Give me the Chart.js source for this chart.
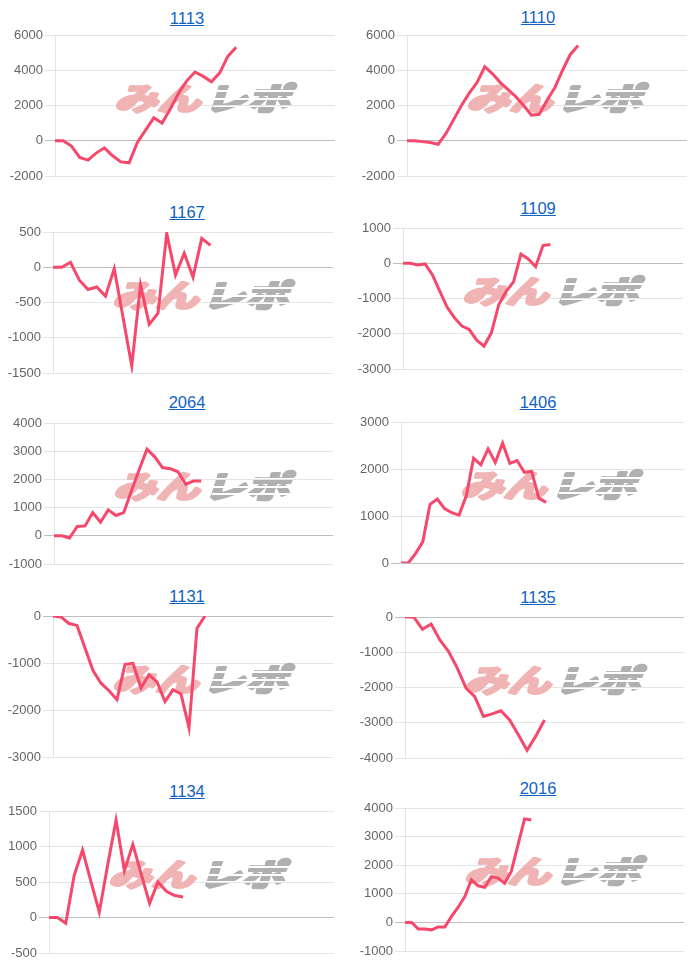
<!DOCTYPE html>
<html>
<head>
<meta charset="utf-8">
<script src="https://cdn.jsdelivr.net/npm/chart.js@4.4.0/dist/chart.umd.min.js"></script>
<style>
body { margin: 0; background: #fff; }
#wrap { position: relative; width: 700px; height: 972px; overflow: hidden; font-family: "Liberation Sans", Arial, sans-serif; }
.ttl { position: absolute; width: 120px; text-align: center; font-size: 16.5px; line-height: 18px; }
.ttl a { color: #1262c2; text-decoration: underline; }
canvas { position: absolute; }
</style>
</head>
<body>
<div id="wrap"></div>
<script>
// titles (stock codes) and number of x categories per chart
const codes = ['1113', '1110', '1167', '1109', '2064', '1406', '1131', '1135', '1134', '2016'];
const labelCounts = [35, 37, 33, 39, 37, 40, 36, 33, 35, 43];

// series values
const s1113 = [0, 0, -300, -950, -1100, -700, -400, -850, -1200, -1250, -100, 600, 1300, 1000, 1800, 2700, 3400, 3900, 3650, 3350, 3850, 4800, 5300];
const s1110 = [0, 0, -50, -100, -200, 400, 1200, 2000, 2700, 3300, 4200, 3800, 3300, 2900, 2500, 2000, 1450, 1500, 2300, 3000, 4000, 4900, 5400];
const s1167 = [0, 0, 70, -180, -315, -280, -410, -20, -710, -1400, -250, -810, -650, 480, -110, 200, -140, 410, 310];
const s1109 = [0, 0, -50, -20, -330, -800, -1250, -1550, -1780, -1880, -2180, -2350, -1970, -1170, -800, -530, 260, 120, -100, 500, 530];
const s2064 = [0, 0, -80, 330, 350, 820, 480, 920, 720, 820, 1600, 2350, 3070, 2800, 2420, 2380, 2270, 1830, 1940, 1940];
const s1406 = [0, 0, 200, 450, 1250, 1360, 1160, 1070, 1020, 1430, 2230, 2090, 2430, 2140, 2550, 2120, 2180, 1930, 1950, 1380, 1290];
const s1131 = [0, -20, -160, -200, -680, -1160, -1430, -1590, -1780, -1030, -1010, -1530, -1250, -1400, -1820, -1570, -1660, -2380, -260, 0];
const s1135 = [0, 0, -350, -200, -650, -980, -1450, -2020, -2260, -2820, -2750, -2660, -2920, -3340, -3780, -3380, -2920];
const s1134 = [0, 0, -80, 590, 950, 510, 75, 740, 1370, 660, 1030, 610, 200, 500, 370, 310, 290];
const s2016 = [0, 0, -230, -230, -260, -160, -160, 210, 530, 900, 1490, 1280, 1230, 1600, 1550, 1370, 1780, 2700, 3620, 3580];
const series = [s1113, s1110, s1167, s1109, s2064, s1406, s1131, s1135, s1134, s2016];

// y tick ranges
const yMin = [-2000, -2000, -1500, -3000, -1000, 0, -3000, -4000, -500, -1000];
const yMax = [6000, 6000, 500, 1000, 4000, 3000, 0, 0, 1500, 4000];
const yStep = [2000, 2000, 500, 1000, 1000, 1000, 1000, 1000, 500, 1000];

// page layout of each panel
const axisX = [55, 407, 53, 403, 54, 401, 53, 405, 49, 405];
const plotTop = [35, 35, 232, 228, 423, 422, 616, 617, 811, 808];
const plotBottom = [176, 176, 373, 369, 564, 563, 757, 758, 953, 951];
const plotRight = [335, 687, 333, 683, 333, 684, 333, 684, 334, 684];
const titleTop = [9, 8, 203, 199, 393, 393, 587, 588, 782, 779];

const wrap = document.getElementById('wrap');

function makeLogo() {
	const c = document.createElement('canvas');
	c.width = 200; c.height = 42;
	const g = c.getContext('2d');
	g.font = 'bold 31px "Noto Sans CJK JP"';
	g.textBaseline = 'middle';
	g.lineJoin = 'round';
	const sx = 86 / g.measureText('みん').width;
	g.setTransform(sx, 0, -0.32, 1, 10, 0);
	g.lineWidth = 3;
	g.fillStyle = g.strokeStyle = '#f0b4b4';
	g.fillText('みん', 0, 22);
	g.strokeText('みん', 0, 22);
	g.fillStyle = g.strokeStyle = '#b0b0b0';
	g.fillText('レポ', 90 / sx, 22);
	g.strokeText('レポ', 90 / sx, 22);
	g.setTransform(1, 0, 0, 1, 0, 0);
	// speed-line cuts through the grey part
	g.clearRect(98, 14, 102, 1.5);
	g.clearRect(98, 22, 102, 1.5);
	g.clearRect(98, 29, 102, 1.5);
	return c;
}
const logo = makeLogo();

const watermark = {
	id: 'watermark',
	beforeDatasetsDraw(chart) {
		const a = chart.chartArea;
		chart.ctx.drawImage(logo, a.left + 60, a.top + 63 - 22);
	}
};

codes.forEach((code, i) => {
	const col = i % 2;
	const left = col * 350;

	const t = document.createElement('div');
	t.className = 'ttl';
	t.style.left = (col ? 538 : 187) - 60 + 'px';
	t.style.top = titleTop[i] + 'px';
	t.innerHTML = '<a href="#">' + code + '</a>';
	wrap.appendChild(t);

	const cv = document.createElement('canvas');
	cv.width = plotRight[i] - left + 5;
	cv.height = plotBottom[i] - plotTop[i] + 20;
	cv.style.left = left + 'px';
	cv.style.top = plotTop[i] - 10 + 'px';
	wrap.appendChild(cv);

	const labels = [];
	for (let k = 1; k <= labelCounts[i]; k++) labels.push(String(k));

	new Chart(cv.getContext('2d'), {
		type: 'line',
		data: {
			labels: labels,
			datasets: [{
				data: series[i],
				borderColor: '#f5486b',
				borderWidth: 3,
				pointRadius: 0,
				tension: 0,
				fill: false
			}]
		},
		options: {
			responsive: false,
			animation: false,
			events: [],
			layout: { padding: { top: 10, bottom: 10, left: 0, right: 5 } },
			plugins: { legend: { display: false }, tooltip: { enabled: false } },
			scales: {
				x: { display: false },
				y: {
					min: yMin[i],
					max: yMax[i],
					afterFit(scale) { scale.width = axisX[i] - left; },
					ticks: {
						stepSize: yStep[i],
						color: '#666',
						padding: 2,
						font: { family: '"Liberation Sans", Arial, sans-serif', size: 13 },
						callback: v => String(v)
					},
					grid: {
						tickLength: 10,
						color: ctx => (ctx.tick && ctx.tick.value === 0) ? 'rgba(0,0,0,0.25)' : 'rgba(0,0,0,0.1)'
					},
					border: { color: 'rgba(0,0,0,0.1)' }
				}
			}
		},
		plugins: [watermark]
	});
});
</script>
</body>
</html>
